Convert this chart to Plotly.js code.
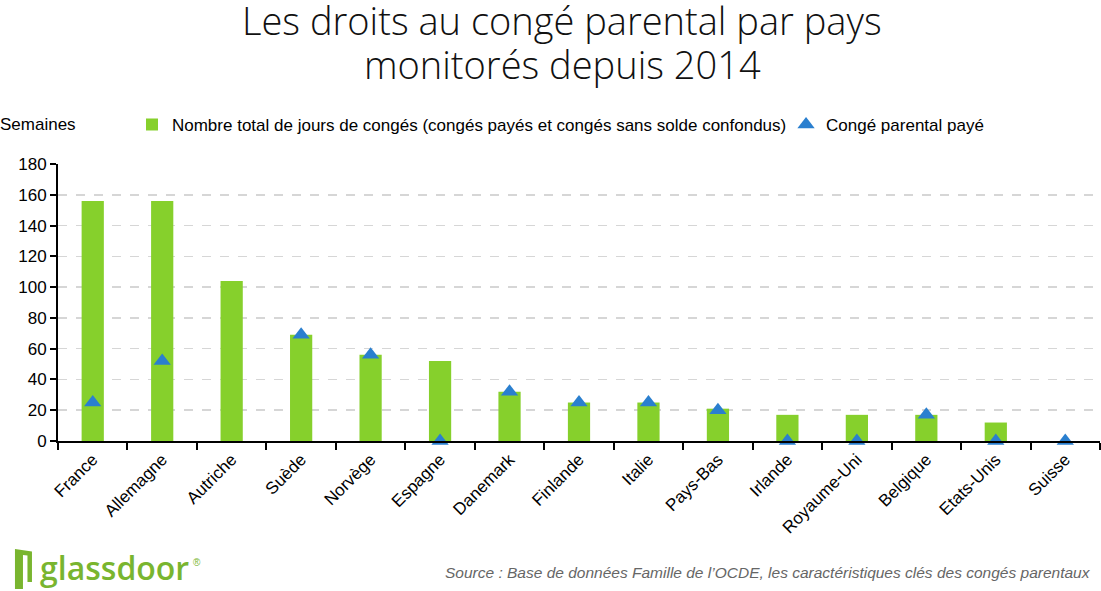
<!DOCTYPE html>
<html>
<head>
<meta charset="utf-8">
<script src="https://cdn.plot.ly/plotly-3.0.1.min.js"></script>
<style>
  html, body { margin: 0; padding: 0; background: #fff; }
  #chart { width: 1101px; height: 591px; }
</style>
</head>
<body>
<div id="chart"></div>
<script>
// Parental leave entitlements by country (weeks)
const pays = ["France", "Allemagne", "Autriche", "Suède", "Norvège", "Espagne", "Danemark",
  "Finlande", "Italie", "Pays-Bas", "Irlande", "Royaume-Uni", "Belgique", "Etats-Unis", "Suisse"];
const totalSemaines = [156, 156, 104, 69, 56, 52, 32, 25, 25, 21, 17, 17, 17, 12, 0];
const congePaye = [25, 52, null, 69, 56, 0, 32, 25, 25, 20, 0, 0, 17, 0, 0];
const yTicks = [0, 20, 40, 60, 80, 100, 120, 140, 160, 180];

const baseFont = "Liberation Sans, Arial, sans-serif";
const titleFont = { family: "Open Sans, Liberation Sans, sans-serif", size: 38, weight: 300, color: "#111" };
const legendFont = { family: baseFont, size: 17, color: "#000" };
const logoGreen = "#79b52f";

const traces = [
  {
    type: "bar",
    x: pays,
    y: totalSemaines,
    name: "Nombre total de jours de congés (congés payés et congés sans solde confondus)",
    marker: { color: "#86d02c" },
    width: 0.32,
    legend: "legend"
  },
  {
    type: "scatter",
    mode: "markers",
    x: pays,
    y: congePaye,
    name: "Congé parental payé",
    marker: { symbol: "triangle-up", size: 15, color: "#2a7fcf" },
    cliponaxis: false,
    legend: "legend2"
  }
];

const layout = {
  width: 1101,
  height: 591,
  margin: { l: 58, r: 1, t: 164, b: 150 },
  paper_bgcolor: "#ffffff",
  plot_bgcolor: "#ffffff",
  font: { family: baseFont, size: 17, color: "#000" },
  showlegend: true,
  legend: {
    orientation: "h",
    x: 0.0710,
    y: 1.141,
    xanchor: "left",
    yanchor: "middle",
    font: legendFont,
    bgcolor: "rgba(0,0,0,0)",
    itemwidth: 30
  },
  legend2: {
    orientation: "h",
    x: 0.6987,
    y: 1.141,
    xanchor: "left",
    yanchor: "middle",
    font: legendFont,
    bgcolor: "rgba(0,0,0,0)",
    itemwidth: 30
  },
  xaxis: {
    type: "category",
    tickson: "boundaries",
    ticks: "outside",
    ticklen: 7,
    tickcolor: "#000",
    tickwidth: 2,
    showline: true,
    linecolor: "#000",
    linewidth: 2,
    tickangle: -45,
    tickfont: { family: baseFont, size: 17, color: "#000" },
    showgrid: false,
    range: [-0.5, 14.5]
  },
  yaxis: {
    range: [0, 180],
    tickmode: "array",
    tickvals: yTicks,
    ticktext: yTicks.map(String),
    ticks: "outside",
    ticklen: 6,
    tickwidth: 2,
    tickcolor: "#000",
    showline: true,
    linecolor: "#000",
    linewidth: 2,
    showgrid: true,
    gridcolor: "#d6d6d6",
    gridwidth: 1.5,
    griddash: "dash",
    zeroline: false,
    tickfont: { family: baseFont, size: 17, color: "#000" }
  },
  annotations: [
    {
      text: "Les droits au congé parental par pays",
      xref: "paper", yref: "paper",
      x: 0.4837, y: 1.5199,
      xanchor: "center", yanchor: "middle",
      showarrow: false,
      font: titleFont
    },
    {
      text: "monitorés depuis 2014",
      xref: "paper", yref: "paper",
      x: 0.4837, y: 1.361,
      xanchor: "center", yanchor: "middle",
      showarrow: false,
      font: titleFont
    },
    {
      text: "Semaines",
      xref: "paper", yref: "paper",
      x: -0.0576, y: 1.141,
      xanchor: "left", yanchor: "middle",
      showarrow: false,
      font: { family: baseFont, size: 17, color: "#000" }
    },
    {
      text: "glassdoor",
      xref: "paper", yref: "paper",
      x: -0.0192, y: -0.4549,
      xanchor: "left", yanchor: "middle",
      showarrow: false,
      font: { family: "Open Sans, DejaVu Sans, sans-serif", size: 32, weight: 600, color: logoGreen }
    },
    {
      text: "®",
      xref: "paper", yref: "paper",
      x: 0.1334, y: -0.4404,
      xanchor: "center", yanchor: "middle",
      showarrow: false,
      font: { family: baseFont, size: 10, color: logoGreen }
    },
    {
      text: "<i>Source : Base de données Famille de l’OCDE, les caractéristiques clés des congés parentaux</i>",
      xref: "paper", yref: "paper",
      x: 0.993, y: -0.473,
      xanchor: "right", yanchor: "middle",
      showarrow: false,
      font: { family: baseFont, size: 15.5, color: "#666666" }
    }
  ],
  shapes: [
    {
      // door icon of the logo
      type: "path",
      xref: "paper", yref: "paper",
      xsizemode: "pixel", ysizemode: "pixel",
      xanchor: -0.0413, yanchor: -0.4621,
      path: "M 0 20 L 17 17.5 L 17 -13 L 12.5 -13 L 12.5 13.5 L 8 14 L 8 -20 L 0 -20 Z",
      fillcolor: logoGreen,
      line: { width: 0 }
    }
  ]
};

Plotly.newPlot("chart", traces, layout, { staticPlot: true, displayModeBar: false });
</script>
</body>
</html>
